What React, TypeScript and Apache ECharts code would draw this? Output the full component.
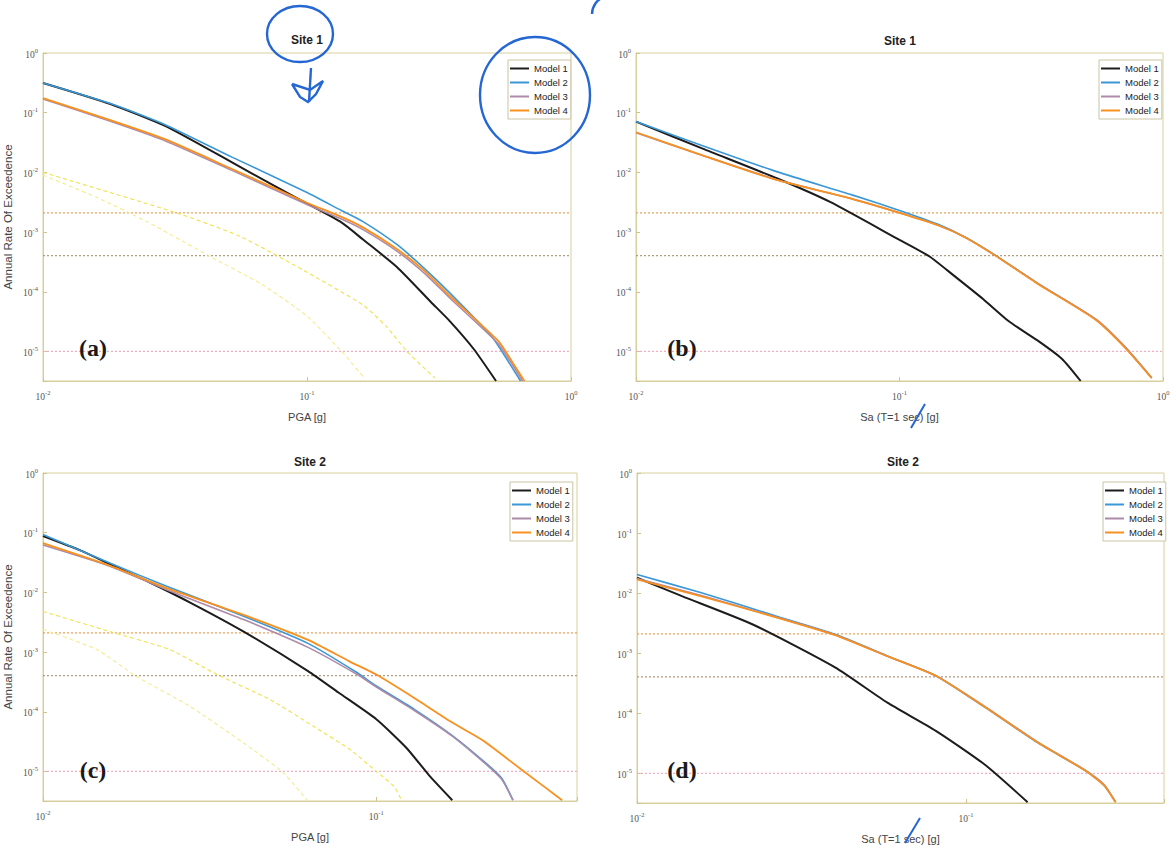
import React, { useEffect, useRef } from 'react';
import * as echarts from 'echarts';

type P = [number, number];

const modelNames = ['Model 1', 'Model 2', 'Model 3', 'Model 4'];
const panelTitles = ['Site 1', 'Site 1', 'Site 2', 'Site 2'];
const panelLetters = ['(a)', '(b)', '(c)', '(d)'];
const xNames = ['PGA [g]', 'Sa (T=1 sec) [g]', 'PGA [g]', 'Sa (T=1 sec) [g]'];
const yName = 'Annual Rate Of Exceedence';
const xMaxes = [1, 1, 0.4, 0.4];
const xMin = 0.01;
const yMin = 3.2e-6;
const yMax = 1;
const hazardLevels = [2.1e-3, 4.04e-4, 1e-5];

// (a) Site 1, PGA
const aModel1: P[] = [[0.01, 0.315], [0.018, 0.14], [0.029, 0.06], [0.052, 0.0147], [0.075, 0.006], [0.1, 0.003], [0.135, 1.45e-3], [0.163, 7.5e-4], [0.219, 2.6e-4], [0.294, 6.8e-5], [0.348, 3.2e-5], [0.428, 1.1e-5], [0.52, 3.2e-6]];
const aModel2: P[] = [[0.01, 0.315], [0.018, 0.142], [0.029, 0.063], [0.052, 0.018], [0.1, 4.6e-3], [0.135, 2.3e-3], [0.163, 1.5e-3], [0.219, 6.2e-4], [0.28, 2.4e-4], [0.348, 9.5e-5], [0.5, 1.8e-5], [0.556, 9e-6], [0.644, 3.2e-6]];
const aModel3: P[] = [[0.01, 0.17], [0.018, 0.072], [0.029, 0.034], [0.052, 0.0108], [0.1, 2.9e-3], [0.135, 1.65e-3], [0.163, 1.1e-3], [0.219, 4.8e-4], [0.28, 2e-4], [0.348, 7.8e-5], [0.53, 1.35e-5], [0.6, 6e-6], [0.655, 3.2e-6]];
const aModel4: P[] = [[0.01, 0.176], [0.018, 0.075], [0.029, 0.036], [0.052, 0.0114], [0.1, 3.1e-3], [0.135, 1.8e-3], [0.163, 1.2e-3], [0.219, 5.2e-4], [0.28, 2.2e-4], [0.348, 8.5e-5], [0.53, 1.5e-5], [0.6, 6.6e-6], [0.666, 3.2e-6]];
const aFaint1: P[] = [[0.01, 0.01], [0.032, 2.1e-3], [0.0557, 8.5e-4], [0.0968, 2.3e-4], [0.163, 6e-5], [0.2, 2.6e-5], [0.239, 1e-5], [0.305, 3.6e-6]];
const aFaint2: P[] = [[0.01, 9e-3], [0.016, 3.8e-3], [0.0247, 1.5e-3], [0.043, 3.9e-4], [0.068, 1.3e-4], [0.1, 3.9e-5], [0.137, 9.4e-6], [0.163, 3.8e-6]];

// (b) Site 1, Sa(T=1s)
const bModel1: P[] = [[0.01, 0.071], [0.0179, 0.025], [0.0344, 7.9e-3], [0.0545, 3.2e-3], [0.1, 7.4e-4], [0.13, 3.9e-4], [0.16, 1.9e-4], [0.208, 7.5e-5], [0.26, 3.2e-5], [0.34, 1.45e-5], [0.414, 7.5e-6], [0.487, 3.2e-6]];
const bModel2: P[] = [[0.01, 0.071], [0.0179, 0.028], [0.0344, 0.0102], [0.066, 4.2e-3], [0.1, 2.3e-3], [0.14, 1.35e-3], [0.177, 8.3e-4], [0.23, 4.15e-4], [0.34, 1.32e-4], [0.555, 3.45e-5], [0.72, 1.16e-5], [0.906, 3.6e-6]];
const bModel3: P[] = [[0.01, 0.046], [0.0179, 0.0192], [0.0344, 7.5e-3], [0.066, 3.6e-3], [0.1, 2.1e-3], [0.14, 1.3e-3], [0.177, 8.2e-4], [0.23, 4.1e-4], [0.34, 1.33e-4], [0.555, 3.5e-5], [0.72, 1.18e-5], [0.906, 3.6e-6]];
const bModel4: P[] = [[0.01, 0.047], [0.0179, 0.0193], [0.0344, 7.4e-3], [0.066, 3.6e-3], [0.1, 2.1e-3], [0.14, 1.3e-3], [0.177, 8.2e-4], [0.23, 4.1e-4], [0.34, 1.3e-4], [0.555, 3.4e-5], [0.72, 1.14e-5], [0.906, 3.6e-6]];

// (c) Site 2, PGA
const cModel1: P[] = [[0.01, 0.088], [0.013, 0.05], [0.016, 0.029], [0.021, 0.0145], [0.028, 6.5e-3], [0.04, 2.2e-3], [0.0624, 4.8e-4], [0.077, 2.1e-4], [0.1, 7.5e-5], [0.123, 2.5e-5], [0.144, 8.6e-6], [0.169, 3.3e-6]];
const cModel2: P[] = [[0.01, 0.093], [0.016, 0.0305], [0.0236, 0.0125], [0.04, 4e-3], [0.0624, 1.4e-3], [0.0877, 4.5e-4], [0.1, 2.7e-4], [0.13, 1.1e-4], [0.169, 4e-5], [0.214, 1.35e-5], [0.238, 7.6e-6], [0.257, 3.3e-6]];
const cModel3: P[] = [[0.01, 0.062], [0.016, 0.027], [0.0236, 0.011], [0.04, 3.5e-3], [0.0624, 1.2e-3], [0.0877, 4.2e-4], [0.1, 2.6e-4], [0.13, 1.05e-4], [0.169, 3.9e-5], [0.214, 1.3e-5], [0.238, 7.3e-6], [0.257, 3.3e-6]];
const cModel4: P[] = [[0.01, 0.067], [0.016, 0.0276], [0.0236, 0.0117], [0.04, 4.2e-3], [0.0624, 1.6e-3], [0.083, 7e-4], [0.1, 4.2e-4], [0.13, 1.7e-4], [0.169, 6.6e-5], [0.209, 3.3e-5], [0.271, 1.1e-5], [0.361, 3.3e-6]];
const cFaint1: P[] = [[0.01, 4.8e-3], [0.0159, 2.2e-3], [0.024, 1.1e-3], [0.0333, 4.2e-4], [0.048, 1.6e-4], [0.0648, 5.7e-5], [0.0836, 2.3e-5], [0.1, 1e-5], [0.113, 5.6e-6], [0.119, 3.3e-6]];
const cFaint2: P[] = [[0.01, 2.4e-3], [0.0145, 1.1e-3], [0.0191, 3.9e-4], [0.0276, 1.23e-4], [0.04, 3e-5], [0.0527, 9.4e-6], [0.062, 3.3e-6]];

// (d) Site 2, Sa(T=1s)
const dModel1: P[] = [[0.01, 0.018], [0.0137, 8.9e-3], [0.0225, 3e-3], [0.04, 5.8e-4], [0.0577, 1.5e-4], [0.081, 5.1e-5], [0.114, 1.4e-5], [0.154, 3.3e-6]];
const dModel2: P[] = [[0.01, 0.0204], [0.0156, 0.0102], [0.0263, 4.2e-3], [0.04, 2.06e-3], [0.0577, 9e-4], [0.081, 4.2e-4], [0.114, 1.26e-4], [0.164, 3.3e-5], [0.231, 1.1e-5], [0.263, 6.3e-6], [0.285, 3.3e-6]];
const dModel3: P[] = [[0.01, 0.0175], [0.0156, 9.2e-3], [0.0263, 4.05e-3], [0.04, 2.02e-3], [0.0577, 8.9e-4], [0.081, 4.2e-4], [0.114, 1.3e-4], [0.164, 3.4e-5], [0.231, 1.12e-5], [0.263, 6.5e-6], [0.285, 3.3e-6]];
const dModel4: P[] = [[0.01, 0.017], [0.0156, 8.9e-3], [0.0263, 4e-3], [0.04, 2e-3], [0.0577, 8.9e-4], [0.081, 4.2e-4], [0.114, 1.28e-4], [0.164, 3.35e-5], [0.231, 1.1e-5], [0.263, 6.3e-6], [0.285, 3.3e-6]];

const panelModels: P[][][] = [
  [aModel1, aModel2, aModel3, aModel4],
  [bModel1, bModel2, bModel3, bModel4],
  [cModel1, cModel2, cModel3, cModel4],
  [dModel1, dModel2, dModel3, dModel4],
];
const panelFaint: P[][][] = [[aFaint1, aFaint2], [], [cFaint1, cFaint2], []];

const modelColors = ['#1c1c1c', '#3b97d6', '#ad8aa8', '#f7901e'];
const modelWidths = [2, 1.6, 1.6, 1.8];
const hazardColors = ['#eaa45c', '#b39a80', '#f2aebe'];

// layout (pixels)
const grids = [
  { left: 43, top: 53, width: 528, height: 328 },
  { left: 636, top: 53, width: 527, height: 328 },
  { left: 43, top: 473, width: 534, height: 328 },
  { left: 637, top: 473, width: 527, height: 330 },
];
const legendPos = [
  { left: 508, top: 60 },
  { left: 1099, top: 60 },
  { left: 510, top: 482 },
  { left: 1103, top: 482 },
];
const titlePos = [[307, 40], [900, 41], [310, 462], [903, 462]];
const letterPos = [[93, 348], [682, 348], [93, 770], [682, 770]];

const FONT = "'Liberation Sans', Arial, sans-serif";
const SERIF = "'Liberation Serif', 'Times New Roman', serif";

const powFormatter = (v: number) => {
  const l = Math.log10(v);
  const e = Math.round(l);
  if (Math.abs(l - e) > 1e-6) return '';
  return `{b|10}{s|${e}}`;
};
const powRich = {
  b: { fontSize: 9.5, color: '#555', fontFamily: SERIF, lineHeight: 13, verticalAlign: 'bottom' },
  s: { fontSize: 6.5, color: '#555', fontFamily: SERIF, lineHeight: 7, verticalAlign: 'top' },
};

export default function App() {
  const ref = useRef<HTMLDivElement>(null);
  useEffect(() => {
    if (!ref.current) return;
    const chart = echarts.init(ref.current, undefined, { renderer: 'svg' });
    const axisColor = '#d8cf9e';

    const series: any[] = [];
    panelModels.forEach((models, i) => {
      hazardLevels.forEach((h, j) => {
        series.push({
          type: 'line', name: 'hazard' + i + j, xAxisIndex: i, yAxisIndex: i,
          data: [[xMin, h], [xMaxes[i], h]], symbol: 'none', silent: true, z: 1,
          lineStyle: { color: hazardColors[j], width: 1.3, type: [2, 2] },
        });
      });
      panelFaint[i].forEach((d, k) => {
        series.push({
          type: 'line', name: 'faint' + i + k, xAxisIndex: i, yAxisIndex: i, data: d,
          symbol: 'none', smooth: 0.2, silent: true, z: 1,
          lineStyle: { color: k === 0 ? '#efe24a' : '#f3ec8e', width: 1.1, type: [4, 3] },
        });
      });
      models.forEach((d, m) => {
        series.push({
          type: 'line', name: modelNames[m], xAxisIndex: i, yAxisIndex: i, data: d,
          symbol: 'none', smooth: 0.2, z: 3 + m,
          lineStyle: { color: modelColors[m], width: modelWidths[m] },
          itemStyle: { color: modelColors[m] },
        });
      });
    });

    const graphics: any[] = [];
    panelTitles.forEach((t, i) => {
      graphics.push({
        type: 'text', x: titlePos[i][0], y: titlePos[i][1], z: 10,
        style: { text: t, fontSize: 12, fontWeight: 'bold', fontFamily: FONT, fill: '#222', align: 'center', verticalAlign: 'middle' },
      });
      graphics.push({
        type: 'text', x: letterPos[i][0], y: letterPos[i][1], z: 10,
        style: { text: panelLetters[i], fontSize: 24, fontWeight: 'bold', fontFamily: SERIF, fill: '#1a1a1a', align: 'center', verticalAlign: 'middle' },
      });
    });
    const pen = { stroke: '#2466d2', lineWidth: 2.4, fill: 'none' };
    graphics.push(
      { type: 'ellipse', shape: { cx: 300, cy: 34, rx: 33, ry: 28 }, style: pen, z: 20 },
      { type: 'line', shape: { x1: 311, y1: 68, x2: 309, y2: 102 }, style: pen, z: 20 },
      { type: 'polyline', shape: { points: [[292, 84], [300, 97], [308, 102], [316, 94], [323, 81], [310, 90], [292, 84]] }, style: pen, z: 20 },
      { type: 'ellipse', shape: { cx: 535, cy: 95, rx: 55, ry: 58 }, style: pen, z: 20 },
      { type: 'arc', shape: { cx: 610, cy: 14, r: 18, startAngle: Math.PI, endAngle: Math.PI * 1.4 }, style: pen, z: 20 },
      { type: 'line', shape: { x1: 925, y1: 404, x2: 911, y2: 428 }, style: { ...pen, lineWidth: 2 }, z: 20 },
      { type: 'line', shape: { x1: 920, y1: 818, x2: 905, y2: 843 }, style: { ...pen, lineWidth: 2 }, z: 20 },
    );

    chart.setOption({
      animation: false,
      backgroundColor: '#ffffff',
      grid: grids.map((g) => ({ ...g, show: true, borderColor: axisColor, borderWidth: 1, backgroundColor: 'transparent' })),
      xAxis: grids.map((g, i) => ({
        type: 'log', logBase: 10, gridIndex: i, min: xMin, max: xMaxes[i],
        name: xNames[i], nameLocation: 'middle', nameGap: 30,
        nameTextStyle: { fontSize: 11, color: '#444', fontFamily: FONT },
        axisLine: { show: true, lineStyle: { color: axisColor } },
        axisTick: { show: true, inside: true, length: 4, lineStyle: { color: '#cfc48c' } },
        axisLabel: { formatter: powFormatter, rich: powRich, margin: 8 },
        splitLine: { show: false },
      })),
      yAxis: grids.map((g, i) => ({
        type: 'log', logBase: 10, gridIndex: i, min: yMin, max: yMax,
        name: i % 2 === 0 ? yName : '', nameLocation: 'middle', nameGap: 29,
        nameTextStyle: { fontSize: 11.5, color: '#444', fontFamily: FONT },
        axisLine: { show: true, lineStyle: { color: axisColor } },
        axisTick: { show: true, inside: true, length: 4, lineStyle: { color: '#cfc48c' } },
        axisLabel: { formatter: powFormatter, rich: powRich, margin: 5 },
        splitLine: { show: false },
      })),
      legend: legendPos.map((p) => ({
        orient: 'vertical', left: p.left, top: p.top, data: modelNames,
        icon: 'rect', itemWidth: 19, itemHeight: 2, itemGap: 3,
        selectedMode: false,
        textStyle: { fontSize: 9.5, color: '#222', fontFamily: FONT, lineHeight: 11 },
        borderColor: '#cbc4a2', borderWidth: 1, padding: [3, 3, 3, 2], backgroundColor: '#fff',
      })),
      graphic: graphics,
      series,
    });
    return () => chart.dispose();
  }, []);
  return <div ref={ref} style={{ position: 'absolute', left: 0, top: 0, width: 1176, height: 853, background: '#fff' }} />;
}
